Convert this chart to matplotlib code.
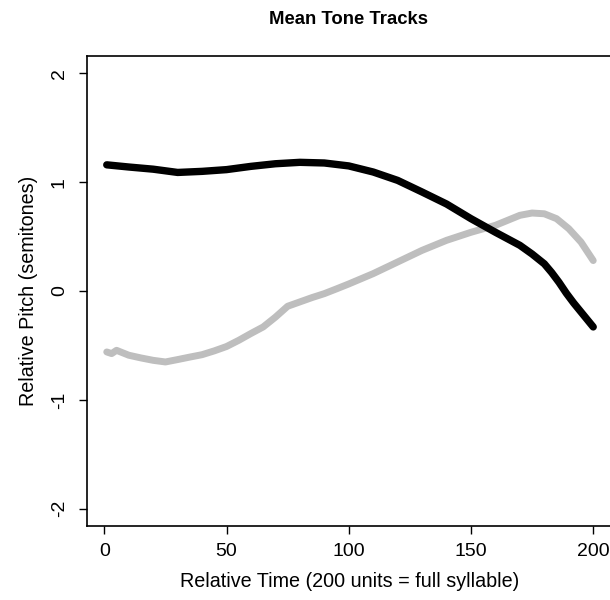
import matplotlib.pyplot as plt
import numpy as np

plt.rcParams['font.family'] = ['Liberation Sans', 'DejaVu Sans']

# time points (read every 5-10 units off the picture)
t_dark = [1, 10, 20, 30, 40, 50, 60, 70, 80, 90, 100, 110, 120, 130, 140,
          150, 160, 165, 170, 175, 180, 183, 186, 189, 192, 196, 200]
pitch_dark = [1.16, 1.14, 1.12, 1.09, 1.10, 1.116, 1.146, 1.17, 1.183, 1.177,
              1.15, 1.094, 1.017, 0.91, 0.80, 0.665, 0.54, 0.48, 0.42, 0.34,
              0.25, 0.17, 0.08, -0.02, -0.11, -0.22, -0.33]

t_grey = [1, 3, 5, 10, 15, 20, 25, 30, 35, 40, 45, 50, 55, 60, 65, 70, 75,
          80, 85, 90, 95, 100, 110, 120, 130, 140, 150, 160, 165, 170, 175,
          180, 185, 190, 195, 200]
pitch_grey = [-0.56, -0.575, -0.545, -0.59, -0.615, -0.637, -0.652, -0.63,
              -0.607, -0.585, -0.55, -0.51, -0.453, -0.39, -0.33, -0.24,
              -0.14, -0.10, -0.06, -0.024, 0.02, 0.065, 0.16, 0.267, 0.374,
              0.466, 0.54, 0.604, 0.65, 0.696, 0.717, 0.71, 0.665, 0.573,
              0.45, 0.28]

fig = plt.figure(figsize=(6.1, 6.0), dpi=100)
ax = fig.add_axes([0.1431, 0.1233, 0.8613, 0.7833])

ax.plot(t_grey, pitch_grey, color='#bebebe', lw=5.0, solid_capstyle='round',
        solid_joinstyle='round')
ax.plot(t_dark, pitch_dark, color='black', lw=5.3, solid_capstyle='round',
        solid_joinstyle='round')

ax.set_xlim(1 - 0.04 * 199, 200 + 0.04 * 199)
ax.set_ylim(-2.16, 2.16)
ax.set_xticks([0, 50, 100, 150, 200])
ax.set_yticks([-2, -1, 0, 1, 2])
ax.set_yticklabels(['-2', '-1', '0', '1', '2'], rotation=90, va='center')
ax.tick_params(axis='both', length=6, width=1, labelsize=14, color='black')
ax.tick_params(axis='x', pad=6)
ax.tick_params(axis='y', pad=8)
for s in ax.spines.values():
    s.set_linewidth(1.2)

ax.set_xlabel('Relative Time (200 units = full syllable)', fontsize=14.2, labelpad=9)
ax.set_ylabel('Relative Pitch (semitones)', fontsize=14.2, labelpad=9)
fig.text(0.572, 0.968, 'Mean Tone Tracks', ha='center', va='center',
         fontsize=13.3, fontweight='bold')

fig.savefig('out.png', dpi=100)
